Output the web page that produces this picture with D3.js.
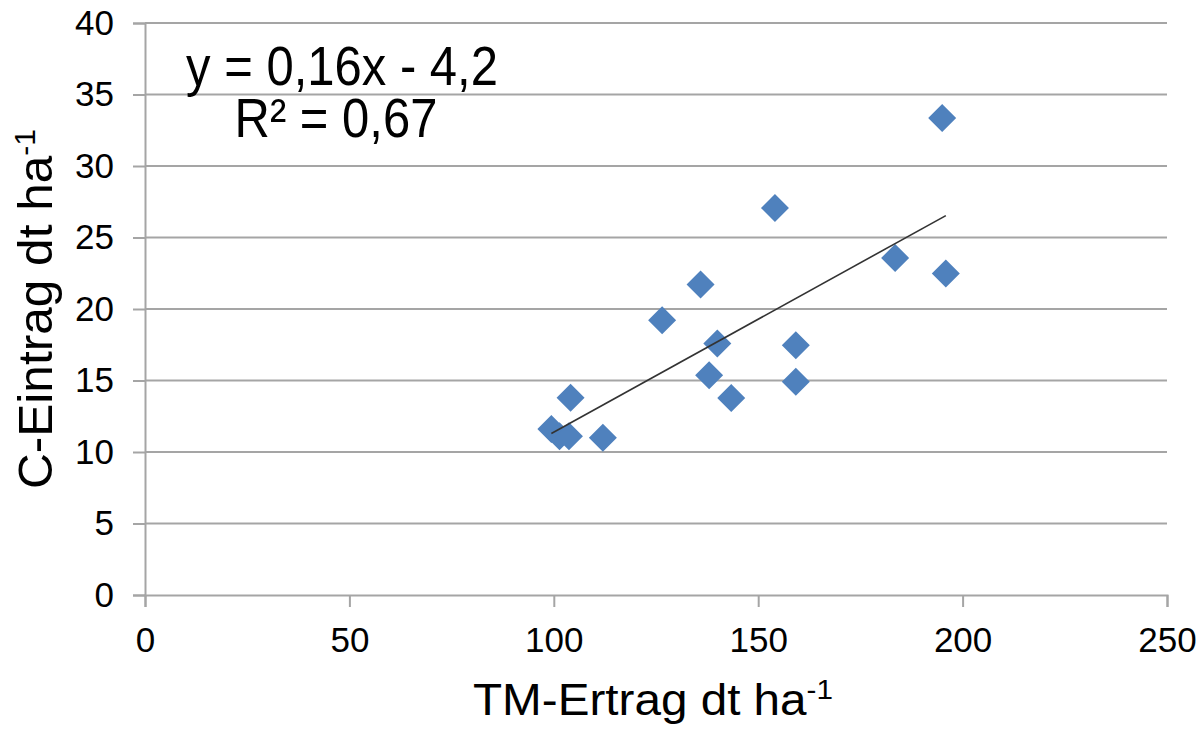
<!DOCTYPE html>
<html>
<head>
<meta charset="utf-8">
<script src="https://cdn.jsdelivr.net/npm/d3@7"></script>
<style>
  body { margin: 0; background: #fff; }
  text { font-family: "Liberation Sans", Arial, sans-serif; fill: #000; }
</style>
</head>
<body>
<div id="chart"></div>
<script>
const width = 1199, height = 732,
      margin = ({ top: 23, right: 32, bottom: 137, left: 145 });

// values
const tmErtrag = [195.0, 154.1, 183.5, 195.9, 135.9, 126.5, 140.0, 159.2, 138.0, 159.2, 143.4, 104.1, 99.4, 101.4, 103.7, 112.0];
const cEintrag = [33.36, 27.06, 23.57, 22.48, 21.71, 19.22, 17.59, 17.47, 15.37, 14.91, 13.77, 13.79, 11.6, 11.1, 11.1, 11.0];
const xTicks = [0, 50, 100, 150, 200, 250];
const yTicks = [0, 5, 10, 15, 20, 25, 30, 35, 40];
const equationLabel = "y = 0,16x - 4,2";
const r2Label = "R² = 0,67";

const data = tmErtrag.map((x, i) => ({ x: x, y: cEintrag[i] }));

const svg = d3.select("#chart").append("svg")
    .attr("width", width)
    .attr("height", height);

const x = d3.scaleLinear().domain([0, 250]).range([margin.left, width - margin.right]);
const y = d3.scaleLinear().domain([0, 40]).range([height - margin.bottom, margin.top]);

const grey = "#a5a5a5";

// horizontal grid
svg.append("g")
  .selectAll("line")
  .data(yTicks.filter(d => d > 0))
  .join("line")
    .attr("x1", x(0)).attr("x2", x(250))
    .attr("y1", d => y(d)).attr("y2", d => y(d))
    .attr("stroke", grey).attr("stroke-width", 2);

// y axis
const yAxis = svg.append("g")
    .attr("transform", `translate(${x(0)},0)`)
    .call(d3.axisLeft(y).tickValues(yTicks).tickSize(12).tickPadding(19));
yAxis.select(".domain").attr("stroke", grey).attr("stroke-width", 2);
yAxis.selectAll(".tick line").attr("stroke", grey).attr("stroke-width", 2);
yAxis.selectAll(".tick text")
    .style("font-family", '"Liberation Sans", Arial, sans-serif')
    .style("font-size", "35px").attr("fill", "#000");

// x axis
const xAxis = svg.append("g")
    .attr("transform", `translate(0,${y(0)})`)
    .call(d3.axisBottom(x).tickValues(xTicks).tickSize(12).tickSizeOuter(12).tickPadding(20));
xAxis.select(".domain").attr("stroke", grey).attr("stroke-width", 2);
xAxis.selectAll(".tick line").attr("stroke", grey).attr("stroke-width", 2);
xAxis.selectAll(".tick text")
    .style("font-family", '"Liberation Sans", Arial, sans-serif')
    .style("font-size", "35px").attr("fill", "#000");

// points
const diamond = d3.symbol().type(d3.symbolSquare).size(392);
svg.append("g")
  .selectAll("path")
  .data(data)
  .join("path")
    .attr("d", diamond)
    .attr("transform", d => `translate(${x(d.x)},${y(d.y)}) rotate(45)`)
    .attr("fill", "#4f81bd");

// linear trend, least squares
const mx = d3.mean(data, d => d.x), my = d3.mean(data, d => d.y);
const slope = d3.sum(data, d => (d.x - mx) * (d.y - my)) / d3.sum(data, d => (d.x - mx) ** 2);
const icpt = my - slope * mx;
const [xmin, xmax] = d3.extent(data, d => d.x);
svg.append("line")
    .attr("x1", x(xmin)).attr("y1", y(slope * xmin + icpt))
    .attr("x2", x(xmax)).attr("y2", y(slope * xmax + icpt))
    .attr("stroke", "#333").attr("stroke-width", 1.6);

// equation (slightly taller glyphs, like the original)
svg.append("text")
    .attr("transform", "translate(342,85) scale(1,1.12)")
    .attr("text-anchor", "middle")
    .style("font-size", "49px")
    .text(equationLabel);
svg.append("text")
    .attr("transform", "translate(336,137) scale(1,1.12)")
    .attr("text-anchor", "middle")
    .style("font-size", "49px")
    .text(r2Label);

// axis titles
const xt = svg.append("text")
    .attr("x", 653).attr("y", 715)
    .attr("text-anchor", "middle")
    .attr("textLength", 360)
    .attr("lengthAdjust", "spacingAndGlyphs")
    .style("font-size", "45px");
xt.append("tspan").text("TM-Ertrag dt ha");
xt.append("tspan").attr("dy", -16).style("font-size", "28px").text("-1");

const yt = svg.append("text")
    .attr("transform", `translate(52,309) rotate(-90)`)
    .attr("text-anchor", "middle")
    .attr("textLength", 360)
    .attr("lengthAdjust", "spacingAndGlyphs")
    .style("font-size", "48px");
yt.append("tspan").text("C-Eintrag dt ha");
yt.append("tspan").attr("dy", -17).style("font-size", "29px").text("-1");
</script>
</body>
</html>
